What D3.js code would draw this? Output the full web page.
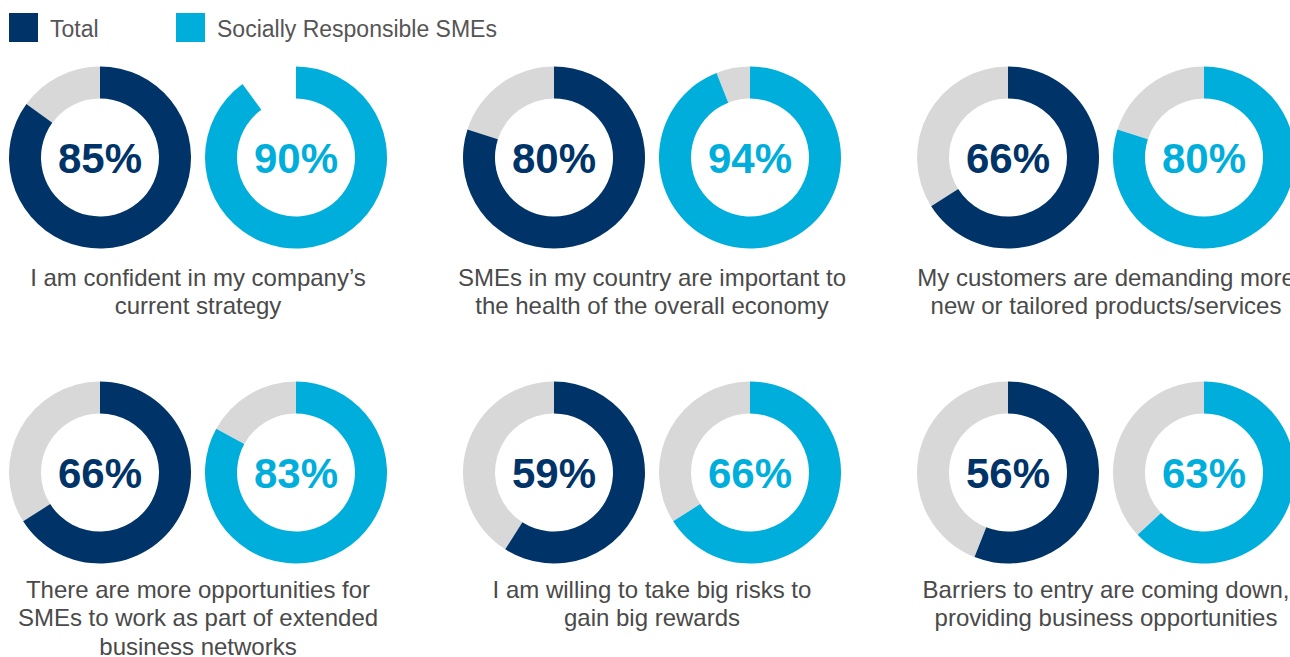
<!DOCTYPE html>
<html>
<head>
<meta charset="utf-8">
<script src="https://cdn.jsdelivr.net/npm/d3@7"></script>
<style>
  html, body { margin: 0; padding: 0; background: #ffffff; overflow: hidden; }
  svg { display: block; }
  text { font-family: "Liberation Sans", Arial, Helvetica, sans-serif; }
</style>
</head>
<body>
<svg id="chart" width="1290" height="657"></svg>
<script>
// Survey statements (caption lines) and shares agreeing, in percent
const statements = [
  ["I am confident in my company\u2019s", "current strategy"],
  ["SMEs in my country are important to", "the health of the overall economy"],
  ["My customers are demanding more", "new or tailored products/services"],
  ["There are more opportunities for", "SMEs to work as part of extended", "business networks"],
  ["I am willing to take big risks to", "gain big rewards"],
  ["Barriers to entry are coming down,", "providing business opportunities"]
];
const totalValues = [85, 80, 66, 66, 59, 56];
const srValues    = [90, 94, 80, 83, 66, 63];
// whether the grey remainder ring is drawn for each donut
const totalTrack = [true, true, true, true, true, true];
const srTrack    = [false, true, true, true, true, true];
const seriesNames = ["Total", "Socially Responsible SMEs"];

const COLORS = { total: "#003468", sr: "#00aedc", track: "#d9d8d9", caption: "#4a4a4a" };

const svg = d3.select("#chart");

// Legend
const legend = svg.append("g");
const legendX = [9, 176];
seriesNames.forEach((name, i) => {
  const g = legend.append("g").attr("transform", `translate(${legendX[i]},13)`);
  g.append("rect").attr("width", 29).attr("height", 29)
    .attr("fill", i === 0 ? COLORS.total : COLORS.sr);
  g.append("text").attr("x", 41).attr("y", 23.5)
    .attr("font-size", 23).attr("fill", "#555555").text(name);
});

// Layout scales: three columns of donut pairs, two rows
const col = d3.scalePoint().domain([0, 1, 2]).range([198, 1106]);
const row = d3.scalePoint().domain([0, 1]).range([157.5, 472.5]);
const captionRow = d3.scalePoint().domain([0, 1]).range([285.5, 597.5]);
const lineHeight = 28.5;
const pairOffset = 98;
const outerR = 91, innerR = 59;

const angle = d3.scaleLinear().domain([0, 100]).range([0, 2 * Math.PI]);
const arc = d3.arc().innerRadius(innerR).outerRadius(outerR);

function donut(g, value, color, showTrack) {
  if (showTrack) {
    g.append("path")
      .attr("d", arc({ startAngle: angle(value), endAngle: angle(100) }))
      .attr("fill", COLORS.track);
  }
  g.append("path")
    .attr("d", arc({ startAngle: 0, endAngle: angle(value) }))
    .attr("fill", color);
  g.append("text")
    .attr("text-anchor", "middle")
    .attr("y", 15)
    .attr("font-size", 42)
    .attr("font-weight", "bold")
    .attr("fill", color)
    .text(value + "%");
}

statements.forEach((lines, i) => {
  const r = Math.floor(i / 3);
  const cx = col(i % 3), cy = row(r);
  const group = svg.append("g");
  donut(group.append("g").attr("transform", `translate(${cx - pairOffset},${cy})`),
        totalValues[i], COLORS.total, totalTrack[i]);
  donut(group.append("g").attr("transform", `translate(${cx + pairOffset},${cy})`),
        srValues[i], COLORS.sr, srTrack[i]);
  const cap = group.append("text")
    .attr("text-anchor", "middle")
    .attr("font-size", 24)
    .attr("fill", COLORS.caption);
  lines.forEach((line, j) => {
    cap.append("tspan").attr("x", cx).attr("y", captionRow(r) + j * lineHeight).text(line);
  });
});
</script>
</body>
</html>
